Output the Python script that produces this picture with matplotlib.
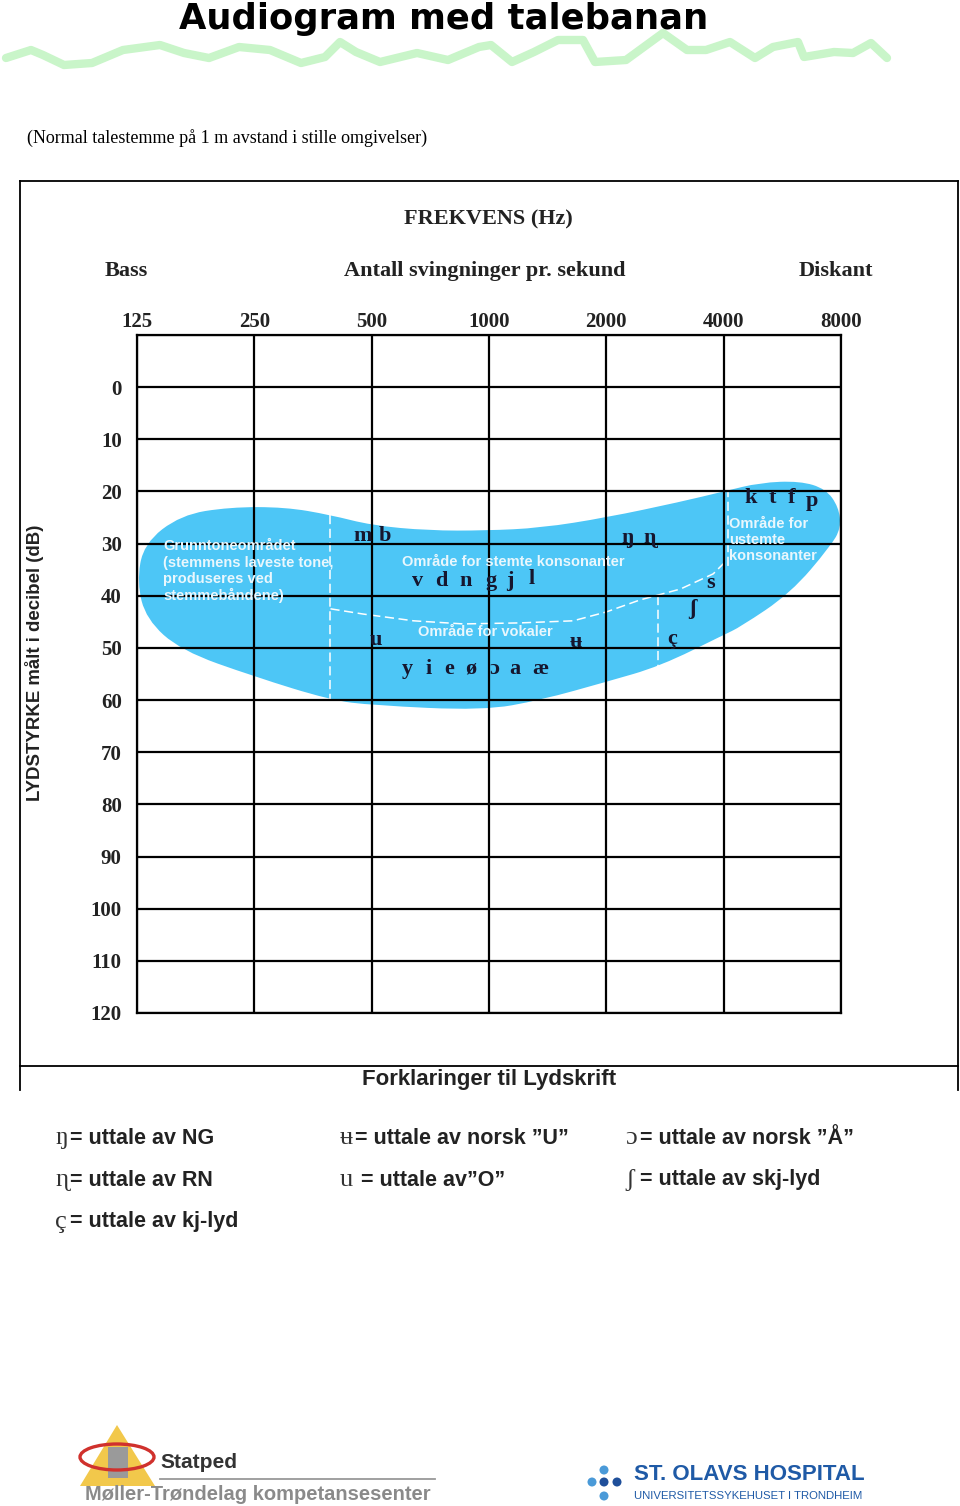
import numpy as np
import matplotlib.pyplot as plt
from matplotlib.patches import Polygon, Ellipse, Rectangle, Circle, PathPatch
from matplotlib.path import Path

W, H = 960, 1506

# axes values
freqs = [125, 250, 500, 1000, 2000, 4000, 8000]
db_lines = list(range(-10, 130, 10))
db_labels = list(range(0, 130, 10))

# speech banana outline (Hz, dB), clockwise from the left tip
banana_hz = [125, 130, 162, 216, 300, 392, 500, 700, 980, 1357, 2000, 3096, 4000,
             4960, 6275, 7310, 7890, 8000, 7520, 5940, 4410, 4000, 2750, 2000,
             1357, 966, 503, 392, 250, 162, 132]
banana_db = [37.5, 30, 24.5, 23, 23, 24.5, 26.5, 27.5, 27.5, 27, 25, 22, 20,
             18.3, 18, 19.5, 23, 27, 30.5, 39.5, 46, 47.5, 53.5, 56.5,
             60, 62, 61, 60, 55.5, 50.5, 44.5]

# dashed borders inside the banana
vowel_hz = [392, 475, 640, 860, 1204, 1645, 2000, 2440, 3100, 3760, 4000]
vowel_db = [42.5, 43.5, 44.8, 45.4, 45.2, 44.8, 43.1, 40.8, 38.7, 35.8, 33.8]
grunn_hz, grunn_db = [392, 392], [24.6, 60]
kj_hz, kj_db = [2720, 2720], [40, 53.5]
ust_hz, ust_db = [4110, 4110], [19.4, 34.2]

# speech sounds
sounds = ["m", "b", "v", "d", "n", "g", "j", "l", "ŋ", "ɳ", "k", "t", "f", "p",
          "s", "ʃ", "ç", "u", "ʉ", "y", "i", "e", "ø", "ɔ", "a", "æ"]
sound_hz = [473, 540, 655, 753, 871, 1014, 1133, 1283, 2262, 2585, 4680, 5320, 5970, 6740,
            3710, 3320, 2950, 513, 1670, 616, 701, 790, 900, 1030, 1166, 1357]
sound_db = [28.5, 28.5, 37.1, 37.1, 37.1, 37.1, 37.1, 36.7, 29, 29, 21.3, 21.3, 21.3, 21.9,
            37.5, 42.5, 48.3, 48.5, 48.8, 54, 54, 54, 54, 54, 54, 54]

# region labels
regions = ["Grunntoneområdet\n(stemmens laveste tone,\nproduseres ved\nstemmebåndene)",
           "Område for stemte konsonanter", "Område for vokaler",
           "Område for\nustemte\nkonsonanter"]
region_hz = [146, 599, 659, 4130]
region_db = [35.3, 33.5, 46.9, 29.3]

# legend
leg_sym = ["ŋ", "ɳ", "ç", "ʉ", "u", "ɔ", "ʃ"]
leg_txt = ["= uttale av NG", "= uttale av RN", "= uttale av kj-lyd",
           "= uttale av norsk ”U”", " = uttale av”O”",
           "= uttale av norsk ”Å”", "= uttale av skj-lyd"]
leg_col = [0, 0, 0, 1, 1, 2, 2]
leg_row = [0, 1, 2, 0, 1, 0, 1]

SERIF = ["Liberation Serif", "DejaVu Serif"]
SANS = ["Liberation Sans", "DejaVu Sans"]
BLUE = "#4dc6f6"
INK = "#16162e"

fig = plt.figure(figsize=(W / 100, H / 100), dpi=100)
fig.patch.set_facecolor("white")

ov = fig.add_axes([0, 0, 1, 1])
ov.set_xlim(0, W)
ov.set_ylim(H, 0)
ov.axis("off")

# title + green squiggle
ov.text(444, 19, "Audiogram med talebanan", ha="center", va="center",
        fontsize=25.5, fontweight="bold", family="DejaVu Sans")
wave_x = [6, 31, 43, 64, 92, 123, 160, 184, 209, 239, 270, 301, 325, 340, 356, 380, 417,
          448, 479, 491, 512, 534, 558, 583, 595, 626, 663, 687, 706, 730, 755, 773, 798,
          804, 834, 853, 871, 887]
wave_y = [58, 50, 55, 65, 63, 50, 45, 53, 58, 47, 50, 63, 57, 42, 52, 62, 53, 60, 47, 45,
          62, 52, 40, 40, 62, 60, 33, 50, 50, 42, 58, 47, 42, 57, 52, 53, 43, 58]
ov.plot(wave_x, wave_y, color="#c9f5c9", lw=6, solid_capstyle="round",
        solid_joinstyle="round")

ov.text(27, 138, "(Normal talestemme på 1 m avstand i stille omgivelser)",
        ha="left", va="center", fontsize=13, family=SERIF)

# outer frame
for xs, ys in [([20, 958], [181, 181]), ([20, 20], [181, 1090]),
               ([958, 958], [181, 1090]), ([20, 958], [1066, 1066])]:
    ov.plot(xs, ys, color="black", lw=1.3)

ov.text(488, 219, "FREKVENS (Hz)", ha="center", va="center", fontsize=16,
        fontweight="bold", family=SERIF, color="#222")
ov.text(126, 271, "Bass", ha="center", va="center", fontsize=16,
        fontweight="bold", family=SERIF, color="#222")
ov.text(485, 271, "Antall svingninger pr. sekund", ha="center", va="center",
        fontsize=16, fontweight="bold", family=SERIF, color="#222")
ov.text(836, 271, "Diskant", ha="center", va="center", fontsize=16,
        fontweight="bold", family=SERIF, color="#222")
ov.text(35, 663, "LYDSTYRKE målt i decibel (dB)", rotation=90, ha="center",
        va="center", fontsize=13.4, fontweight="bold", family=SANS, color="#222")

# audiogram grid
ax = fig.add_axes([137 / W, 1 - 1013 / H, (841 - 137) / W, (1013 - 335) / H])
ax.set_xscale("log", base=2)
ax.set_xlim(125, 8000)
ax.set_ylim(120, -10)
ax.set_facecolor("none")

# smooth closed outline: quadratic curves through midpoints (in log-frequency)
lx = np.log2(banana_hz)
by = np.array(banana_db, dtype=float)
n = len(lx)
mx = (lx + np.roll(lx, -1)) / 2
my = (by + np.roll(by, -1)) / 2
verts = [(2 ** mx[0], my[0])]
codes = [Path.MOVETO]
for i in range(1, n + 1):
    j = i % n
    verts += [(2 ** lx[j], by[j]), (2 ** mx[j], my[j])]
    codes += [Path.CURVE3, Path.CURVE3]
verts.append(verts[0])
codes.append(Path.CLOSEPOLY)
ax.add_patch(PathPatch(Path(verts, codes), fc=BLUE, lw=0, zorder=1, clip_on=False))

for hx, dy in [(vowel_hz, vowel_db), (grunn_hz, grunn_db), (kj_hz, kj_db), (ust_hz, ust_db)]:
    ax.plot(hx, dy, color="white", lw=1.1, ls=(0, (6, 3)), zorder=1.5)

for f in freqs:
    ax.axvline(f, color="black", lw=1.6, zorder=2)
for d in db_lines:
    ax.axhline(d, color="black", lw=1.6, zorder=2)

ax.xaxis.tick_top()
ax.set_xticks(freqs)
ax.set_xticklabels([str(f) for f in freqs])
ax.xaxis.set_minor_locator(plt.NullLocator())
ax.set_yticks(db_labels)
ax.set_yticklabels([str(d) for d in db_labels])
ax.tick_params(length=0)
ax.tick_params(axis="x", pad=2)
ax.tick_params(axis="y", pad=11)
for lab in ax.get_xticklabels() + ax.get_yticklabels():
    lab.set_family(SERIF)
    lab.set_fontweight("bold")
    lab.set_fontsize(15)
    lab.set_color("#222")
for sp in ax.spines.values():
    sp.set_linewidth(1.6)

for s, hx, dy in zip(sounds, sound_hz, sound_db):
    ax.text(hx, dy, s, ha="center", va="center", fontsize=16, fontweight="bold",
            family=SERIF, color=INK, zorder=3)

for r, hx, dy in zip(regions, region_hz, region_db):
    ax.text(hx, dy, r, ha="left", va="center", fontsize=10.5, fontweight="bold",
            family=SANS, color="#e9f7fd", linespacing=1.2, zorder=3)

# legend
ov.text(489, 1080, "Forklaringer til Lydskrift", ha="center", va="center",
        fontsize=16, fontweight="bold", family=SANS, color="#222")
col_x = [55, 340, 625]
row_y = [1138, 1180, 1222]
for s, t, c, r in zip(leg_sym, leg_txt, leg_col, leg_row):
    ov.text(col_x[c], row_y[r], s, ha="left", va="center", fontsize=19,
            family=SERIF, color="#333")
    ov.text(col_x[c] + 15, row_y[r], t, ha="left", va="center", fontsize=15.5,
            fontweight="bold", family=SANS, color="#222")

# Statped logo
ov.add_patch(Polygon([[80, 1486], [117, 1425], [155, 1486]], closed=True,
                     color="#f2c84b", lw=0))
ov.add_patch(Rectangle((108, 1447), 20, 31, color="#9a9a9a", lw=0))
ov.add_patch(Ellipse((117, 1457), 74, 26, fill=False, ec="#d0312d", lw=2.4))
ov.text(160, 1463, "Statped", ha="left", va="center", fontsize=15,
        fontweight="bold", family=SANS, color="#333")
ov.plot([160, 435], [1479, 1479], color="#999", lw=1.3)
ov.text(85, 1494, "Møller-Trøndelag kompetansesenter", ha="left", va="center",
        fontsize=14.5, fontweight="bold", family=SANS, color="#8a8a8a")

# St. Olavs logo
for (cx, cy, col) in [(604, 1470, "#4a9ad8"), (592, 1482, "#4a9ad8"),
                      (604, 1482, "#1f4f9a"), (617, 1482, "#1f4f9a"),
                      (604, 1496, "#4a9ad8")]:
    ov.add_patch(Circle((cx, cy), 4.5, color=col, lw=0))
ov.text(634, 1475, "ST. OLAVS HOSPITAL", ha="left", va="center", fontsize=16,
        fontweight="bold", family=SANS, color="#1f5aa6")
ov.text(634, 1496, "UNIVERSITETSSYKEHUSET I TRONDHEIM", ha="left", va="center",
        fontsize=8.2, family=SANS, color="#1f5aa6")

fig.savefig("out.png", dpi=100)
